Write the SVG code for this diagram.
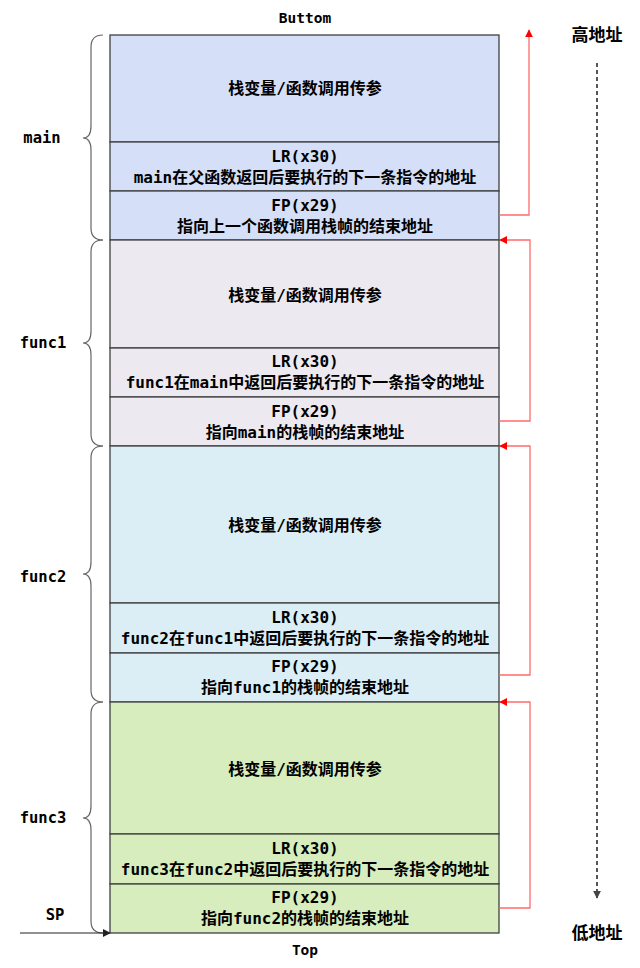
<svg xmlns="http://www.w3.org/2000/svg" width="640" height="968" viewBox="0 0 640 968">
<defs>
<style>
.cell{stroke:#404040;stroke-width:1.3}
.m{fill:#D5DFF7}.f1{fill:#EDE9F1}.f2{fill:#DCEEF5}.f3{fill:#D7EDBD}
text{font-family:"DejaVu Sans Mono","Noto Sans CJK SC",monospace;font-weight:bold;font-size:16px;fill:#000;text-anchor:middle;dominant-baseline:central}
.sm{font-size:14.5px}
.side{font-size:15.5px}
.addr{font-size:17px}
.brace{fill:none;stroke:#666;stroke-width:1.2}
.red{fill:none;stroke:#FF6B6B;stroke-width:1.3}
</style>
<marker id="ra" viewBox="0 0 10 10" refX="9" refY="5" markerWidth="8" markerHeight="8" markerUnits="userSpaceOnUse" orient="auto"><path d="M0,0L10,5L0,10z" fill="#FF0000"/></marker>
<marker id="ba" viewBox="0 0 10 10" refX="9" refY="5" markerWidth="8" markerHeight="8" markerUnits="userSpaceOnUse" orient="auto"><path d="M0,0L10,5L0,10z" fill="#222"/></marker>
<marker id="ga" viewBox="0 0 10 10" refX="9" refY="5" markerWidth="8" markerHeight="8" markerUnits="userSpaceOnUse" orient="auto"><path d="M0,0L10,5L0,10z" fill="#444"/></marker>
</defs>
<rect width="640" height="968" fill="#fff"/>

<g id="main-vars"><rect class="cell m" x="110" y="35" width="389" height="107"/><text x="305" y="88">栈变量/函数调用传参</text></g>
<g id="main-lr"><rect class="cell m" x="110" y="142" width="389" height="49"/><text x="305" y="156">LR(x30)</text><text x="305" y="177">main在父函数返回后要执行的下一条指令的地址</text></g>
<g id="main-fp"><rect class="cell m" x="110" y="191" width="389" height="49"/><text x="305" y="205">FP(x29)</text><text x="305" y="226">指向上一个函数调用栈帧的结束地址</text></g>

<g id="func1-vars"><rect class="cell f1" x="110" y="240" width="389" height="108"/><text x="305" y="295">栈变量/函数调用传参</text></g>
<g id="func1-lr"><rect class="cell f1" x="110" y="348" width="389" height="49"/><text x="305" y="361">LR(x30)</text><text x="305" y="382">func1在main中返回后要执行的下一条指令的地址</text></g>
<g id="func1-fp"><rect class="cell f1" x="110" y="397" width="389" height="49"/><text x="305" y="411">FP(x29)</text><text x="305" y="432">指向main的栈帧的结束地址</text></g>

<g id="func2-vars"><rect class="cell f2" x="110" y="446" width="389" height="157"/><text x="305" y="525">栈变量/函数调用传参</text></g>
<g id="func2-lr"><rect class="cell f2" x="110" y="603" width="389" height="50"/><text x="305" y="617">LR(x30)</text><text x="305" y="638">func2在func1中返回后要执行的下一条指令的地址</text></g>
<g id="func2-fp"><rect class="cell f2" x="110" y="653" width="389" height="49"/><text x="305" y="666">FP(x29)</text><text x="305" y="687">指向func1的栈帧的结束地址</text></g>

<g id="func3-vars"><rect class="cell f3" x="110" y="702" width="389" height="132"/><text x="305" y="769">栈变量/函数调用传参</text></g>
<g id="func3-lr"><rect class="cell f3" x="110" y="834" width="389" height="50"/><text x="305" y="848">LR(x30)</text><text x="305" y="869">func3在func2中返回后要执行的下一条指令的地址</text></g>
<g id="func3-fp"><rect class="cell f3" x="110" y="884" width="389" height="49"/><text x="305" y="897">FP(x29)</text><text x="305" y="918">指向func2的栈帧的结束地址</text></g>

<g id="labels">
<text class="sm" x="305" y="18">Buttom</text>
<text class="sm" x="305" y="950">Top</text>
<text class="side" x="42" y="138">main</text>
<text class="side" x="43" y="343">func1</text>
<text class="side" x="43" y="577">func2</text>
<text class="side" x="43" y="818">func3</text>
<text class="side" x="55" y="915">SP</text>
<text class="addr" x="597" y="35">高地址</text>
<text class="addr" x="597" y="933">低地址</text>
</g>

<g id="connectors">
<path class="brace" d="M103,35 Q91,35 91,47 L91,126 Q91,138 83,138 Q91,138 91,150 L91,228 Q91,240 103,240"/>
<path class="brace" d="M103,240 Q91,240 91,252 L91,331 Q91,343 83,343 Q91,343 91,355 L91,434 Q91,446 103,446"/>
<path class="brace" d="M103,446 Q91,446 91,458 L91,562 Q91,574 83,574 Q91,574 91,586 L91,690 Q91,702 103,702"/>
<path class="brace" d="M103,702 Q91,702 91,714 L91,806 Q91,818 83,818 Q91,818 91,830 L91,921 Q91,933 103,933"/>
<path class="red" d="M499,215 H529 V30" marker-end="url(#ra)"/>
<path class="red" d="M499,421 H530 V240 H500" marker-end="url(#ra)"/>
<path class="red" d="M499,675 H530 V446 H500" marker-end="url(#ra)"/>
<path class="red" d="M499,908 H530 V702 H500" marker-end="url(#ra)"/>
<path d="M20,933 H110" fill="none" stroke="#222" stroke-width="1.2" marker-end="url(#ba)"/>
<path d="M597,63 V898" fill="none" stroke="#555" stroke-width="2" stroke-dasharray="4,3" marker-end="url(#ga)"/>
</g>
</svg>
